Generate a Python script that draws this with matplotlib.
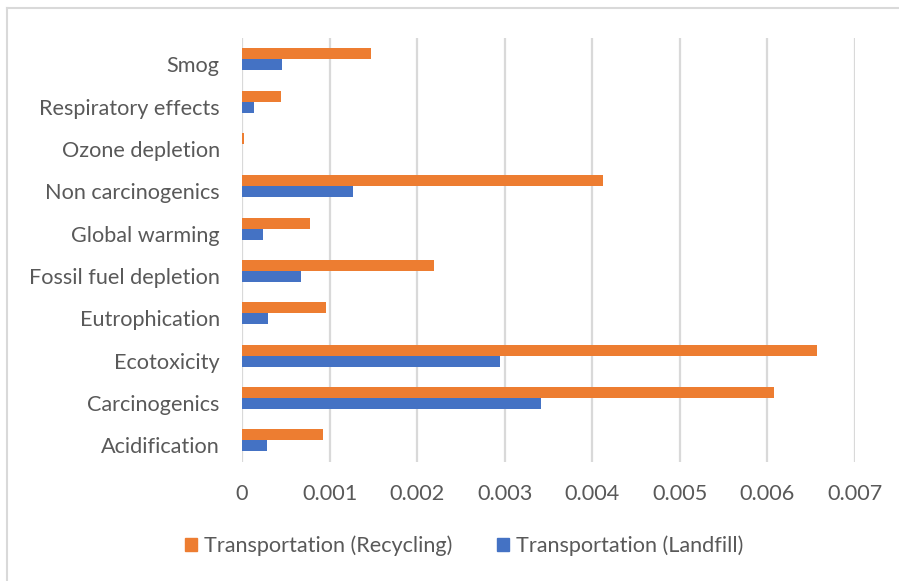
import matplotlib
matplotlib.use("Agg")
import matplotlib.pyplot as plt
import matplotlib.transforms as mtransforms
from matplotlib.lines import Line2D
from matplotlib.patches import Patch
import numpy as np

categories = ["Acidification", "Carcinogenics", "Ecotoxicity", "Eutrophication",
              "Fossil fuel depletion", "Global warming", "Non carcinogenics",
              "Ozone depletion", "Respiratory effects", "Smog"]
recycling = [0.00093, 0.00608, 0.00657, 0.00096, 0.00219, 0.00078, 0.00412,
             0.000023, 0.00045, 0.00147]
landfill = [0.00028, 0.00341, 0.00295, 0.00030, 0.00067, 0.000236, 0.00127,
            0.000005, 0.000133, 0.000453]
xticks = [0, 0.001, 0.002, 0.003, 0.004, 0.005, 0.006, 0.007]
xtick_labels = ["0", "0.001", "0.002", "0.003", "0.004", "0.005", "0.006", "0.007"]
series_names = ["Transportation (Recycling)", "Transportation (Landfill)"]

ORANGE = "#ED7D31"
BLUE = "#4472C4"
GRID = "#D9D9D9"
TEXT = "#595959"
FONT = "Lato"
FS = 15.6

W, H = 899, 581
fig = plt.figure(figsize=(W / 100, H / 100), dpi=100)
ax = fig.add_axes([242 / W, 1 - 461.5 / H, (855 - 242) / W, (461.5 - 38.1) / H])

y = np.arange(len(categories))
bh = 0.26
ax.barh(y + bh / 2, recycling, height=bh, color=ORANGE, zorder=3)
ax.barh(y - bh / 2, landfill, height=bh, color=BLUE, zorder=3)

ax.set_xlim(0, 0.007)
ax.set_ylim(-0.5, len(categories) - 0.5)
ax.set_xticks(xticks)
ax.set_xticklabels(xtick_labels, fontfamily=FONT, fontsize=FS, color=TEXT)
ax.set_yticks(y)
ax.set_yticklabels(categories, fontfamily=FONT, fontsize=FS, color=TEXT)
ax.tick_params(axis="both", length=0)
ax.tick_params(axis="x", pad=16)
ax.tick_params(axis="y", pad=16)
ax.grid(axis="x", color=GRID, linewidth=1.6, zorder=0)
ax.set_axisbelow(True)
for s in ax.spines.values():
    s.set_visible(False)

# category labels sit slightly below the bar pair centre
shift = mtransforms.ScaledTranslation(0, -5 / 100, fig.dpi_scale_trans)
for lbl in ax.get_yticklabels():
    lbl.set_transform(lbl.get_transform() + shift)

handles = [Patch(color=ORANGE), Patch(color=BLUE)]
leg = fig.legend(handles, series_names, loc="center", bbox_to_anchor=(464 / W, 1 - 546 / H),
                 ncol=2, frameon=False, handlelength=0.56, handleheight=0.56,
                 handletextpad=0.33, columnspacing=2.05,
                 prop={"family": FONT, "size": FS})
for t in leg.get_texts():
    t.set_color(TEXT)

# outer chart border
fig.add_artist(Line2D([7 / W, 7 / W], [0, 1 - 8 / H], color=GRID, linewidth=1.5,
                      transform=fig.transFigure))
fig.add_artist(Line2D([7 / W, 1], [1 - 8 / H, 1 - 8 / H], color=GRID, linewidth=1.5,
                      transform=fig.transFigure))

fig.savefig("out.png", dpi=100)
